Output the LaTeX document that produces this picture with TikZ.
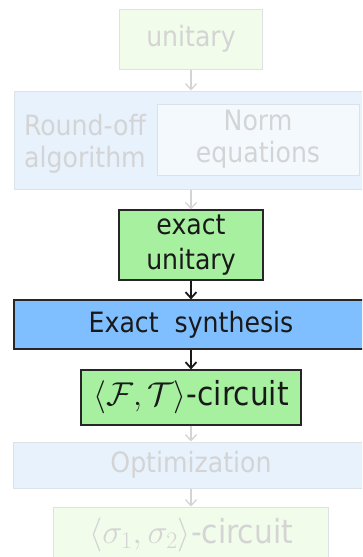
\documentclass[tikz,border=0pt]{standalone}
\usepackage{fix-cm}
\usepackage{amssymb}
\usepackage[no-math]{fontspec}
\setmainfont{DejaVu Sans Condensed}
\usetikzlibrary{arrows.meta}

\definecolor{fadegreen}{HTML}{F1FCEB}
\definecolor{fadeblue}{HTML}{E7F2FD}
\definecolor{fadeline}{HTML}{DCE2E6}
\definecolor{fadetext}{HTML}{D4D4D4}
\definecolor{brightgreen}{HTML}{A6F0A0}
\definecolor{brightblue}{HTML}{80BFFF}

\tikzset{
  box/.style={draw, rectangle, inner sep=0pt, align=center, font=\fontsize{28}{35}\selectfont},
  faded/.style={box, draw=fadeline, text=fadetext, line width=1pt},
  active/.style={box, draw=black!85, text=black!90, line width=1.2pt},
  bigtext/.style={font=\fontsize{33}{38}\selectfont},
  fadearrow/.style={-{Straight Barb[length=6pt,width=11pt]}, draw=fadetext, line width=1.3pt},
  activearrow/.style={-{Straight Barb[length=6pt,width=11pt]}, draw=black!90, line width=1.8pt}
}

\begin{document}
\begin{tikzpicture}[x=1pt,y=-1pt]
\clip (0,0) rectangle (362,557);
\fill[white] (0,0) rectangle (362,557);
\node[faded, fill=fadegreen, minimum width=143pt, minimum height=60pt] (unitary) at (191,39) {unitary};
\node[faded, fill=fadeblue, minimum width=354pt, minimum height=98pt] (roundoff) at (191,140) {};
\node[faded, draw=none, font=\fontsize{28}{32}\selectfont] (roundtext) at (85,144) {Round-off\\algorithm};
\node[faded, fill=fadeblue!45!white, minimum width=202pt, minimum height=71pt, font=\fontsize{28}{32}\selectfont] (norm) at (258,139.5) {Norm\\equations};
\node[active, fill=brightgreen, minimum width=144pt, minimum height=70pt] (exactu) at (191,245) {exact\\unitary};
\node[active, fill=brightblue, minimum width=354pt, minimum height=49pt] (synth) at (191,324.5) {Exact\ \ synthesis};
\node[active, bigtext, fill=brightgreen, minimum width=220pt, minimum height=55pt] (ftcirc) at (191,397.5) {$\langle\mathcal{F},\mathcal{T}\rangle$-circuit};
\node[faded, fill=fadeblue, minimum width=355pt, minimum height=46pt] (optim) at (191,465) {Optimization};
\node[faded, bigtext, fill=fadegreen, minimum width=275pt, minimum height=56pt] (sigcirc) at (191,535) {{\fontsize{34}{38}\selectfont$\langle\sigma_1,\sigma_2\rangle$}-circuit};
\draw[fadearrow] (unitary) -- (roundoff);
\draw[fadearrow] (roundoff) -- (exactu);
\draw[activearrow] (exactu) -- (synth);
\draw[activearrow] (synth) -- (ftcirc);
\draw[fadearrow] (ftcirc) -- (optim);
\draw[fadearrow] (optim) -- (sigcirc);
\end{tikzpicture}
\end{document}
